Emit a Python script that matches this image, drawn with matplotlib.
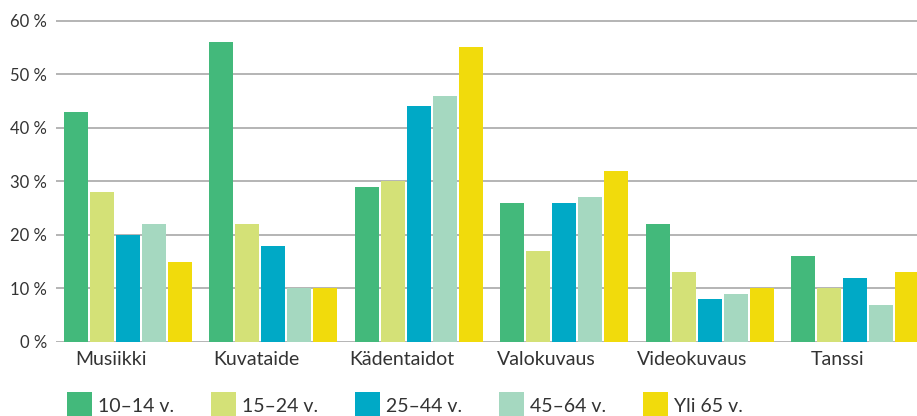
import numpy as np
import matplotlib.pyplot as plt
from matplotlib.patches import Rectangle

plt.rcParams['font.family'] = ['Lato', 'DejaVu Sans']

categories = ["Musiikki", "Kuvataide", "Kädentaidot", "Valokuvaus", "Videokuvaus", "Tanssi"]
age_groups = ["10–14 v.", "15–24 v.", "25–44 v.", "45–64 v.", "Yli 65 v."]
values = {
    "10–14 v.": [43, 56, 29, 26, 22, 16],
    "15–24 v.": [28, 22, 30, 17, 13, 10],
    "25–44 v.": [20, 18, 44, 26, 8, 12],
    "45–64 v.": [22, 10, 46, 27, 9, 7],
    "Yli 65 v.": [15, 10, 55, 32, 10, 13],
}
colors = ["#43b97b", "#d4e177", "#00a9c6", "#a5d8c0", "#f1db0c"]
yticks = [0, 10, 20, 30, 40, 50, 60]

W, H = 917, 416
fig = plt.figure(figsize=(W / 100, H / 100), dpi=100)
ax = fig.add_axes([56 / W, (H - 342) / H, (W - 56) / W, (342 - 15.3) / H])

text_col = "#333333"
pitch = 26 / 145.4
width = 24 / 145.4
x = np.arange(len(categories))
for j, grp in enumerate(age_groups):
    ax.bar(x + (j - 2) * pitch, values[grp], width=width, color=colors[j], zorder=2)

ax.set_xlim(-0.495, 5.426)
ax.set_ylim(0, 61)
ax.set_yticks(yticks)
ax.set_yticklabels([f"{v} %" for v in yticks])
ax.set_xticks(x - 0.12)
ax.set_xticklabels(categories)
ax.tick_params(axis="y", length=0, pad=6.5, labelsize=12, labelcolor=text_col)
ax.tick_params(axis="x", length=0, pad=6.5, labelsize=14, labelcolor=text_col)
ax.grid(axis="y", color="#a8a8a8", linewidth=1.2, zorder=0)
ax.set_axisbelow(True)
for s in ax.spines.values():
    s.set_visible(False)

# legend row along the bottom edge
for k, grp in enumerate(age_groups):
    x0 = 67 + 144 * k
    fig.add_artist(Rectangle((x0 / W, 0), 25 / W, 24 / H,
                             transform=fig.transFigure, color=colors[k], lw=0))
    fig.text((x0 + 31) / W, 4.3 / H, grp, fontsize=14, color=text_col,
             va="baseline", ha="left")

fig.savefig("out.png", dpi=100)
